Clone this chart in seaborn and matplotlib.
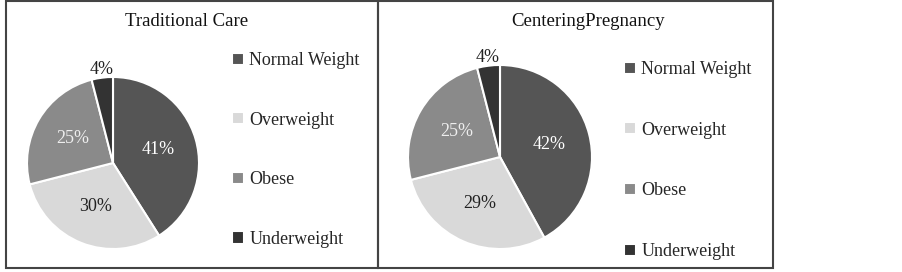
import numpy as np
import seaborn as sns
import matplotlib.pyplot as plt
from matplotlib.patches import Rectangle

categories = ['Normal Weight', 'Overweight', 'Obese', 'Underweight']
traditional = [41, 30, 25, 4]
centering = [42, 29, 25, 4]
titles = ['Traditional Care', 'CenteringPregnancy']

colors = ['#555555', '#d9d9d9', '#8a8a8a', '#333333']
pct_colors = ['white', '#222222', '#eeeeee', '#222222']

sns.set_theme(style='white')
plt.rcParams['font.family'] = ['Liberation Serif', 'DejaVu Serif']

W, H = 902, 272
fig = plt.figure(figsize=(W / 100, H / 100), dpi=100)


def px_box(x0, y0, x1, y1):
    return [x0 / W, 1 - y1 / H, (x1 - x0) / W, (y1 - y0) / H]


def draw_pie(values, title, center, r, box, leg_xy, title_xy, spacing):
    cx, cy = center
    ax = fig.add_axes(px_box(cx - r, cy - r, cx + r, cy + r))
    wedges, texts, autotexts = ax.pie(
        values, colors=colors, startangle=90, counterclock=False,
        autopct='%d%%', pctdistance=0.55,
        wedgeprops=dict(edgecolor='white', linewidth=1.5),
        textprops=dict(fontsize=13))
    ax.set_xlim(-1, 1)
    ax.set_ylim(-1, 1)
    ax.set_aspect('auto')
    for t, c in zip(autotexts, pct_colors):
        t.set_color(c)
    # small slice label goes outside, above the wedge
    w = wedges[-1]
    mid = np.deg2rad((w.theta1 + w.theta2) / 2)
    autotexts[-1].set_position((1.09 * np.cos(mid), 1.09 * np.sin(mid)))

    fig.add_artist(Rectangle((box[0] / W, 1 - box[3] / H),
                             (box[2] - box[0]) / W, (box[3] - box[1]) / H,
                             transform=fig.transFigure, fill=False,
                             edgecolor='#444444', linewidth=1.5))
    fig.text(title_xy[0] / W, 1 - title_xy[1] / H, title, fontsize=13.5,
             ha='center', va='center', color='#111111')
    ax.legend(wedges, categories, loc='upper left',
              bbox_to_anchor=(leg_xy[0] / W, 1 - leg_xy[1] / H),
              bbox_transform=fig.transFigure, frameon=False,
              fontsize=13, borderpad=0, borderaxespad=0,
              handlelength=0.65, handleheight=0.65, handletextpad=0.3,
              labelspacing=spacing)


draw_pie(traditional, titles[0], (113, 163), 86, (6, 1, 378, 268),
         (232, 52), (187, 22), 2.36)
draw_pie(centering, titles[1], (500, 157), 92, (378, 1, 773, 268),
         (624, 61), (588, 22), 2.42)

fig.savefig('out.png', dpi=100)
